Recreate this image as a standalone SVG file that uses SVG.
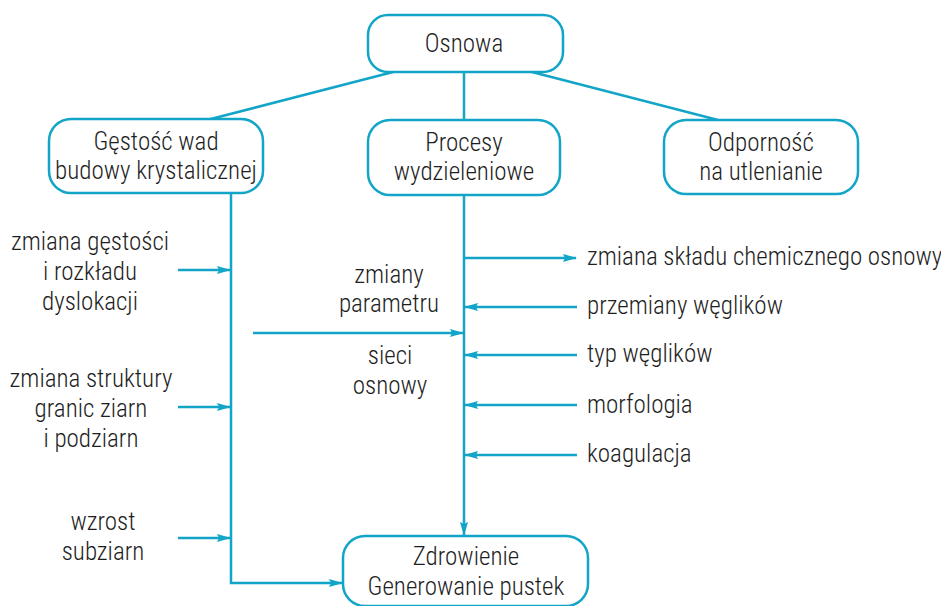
<svg xmlns="http://www.w3.org/2000/svg" width="941" height="606" viewBox="0 0 941 606">
<style>
.box{fill:#fff;stroke:#12a5c7;stroke-width:2.5}
.ln{fill:none;stroke:#12a5c7;stroke-width:2.5}
.t{font-family:Roboto,"Liberation Sans",sans-serif;font-weight:300;font-size:25px;font-stretch:86%;fill:#1e1e1e}
.c{text-anchor:middle}
</style>
<defs>
<marker id="ah" viewBox="0 0 14 8" refX="13" refY="4" markerWidth="14" markerHeight="8" markerUnits="userSpaceOnUse" orient="auto">
<path d="M0,0 L14,4 L0,8 L2,4 Z" fill="#12a5c7"/>
</marker>
</defs>
<rect width="941" height="606" fill="#fff"/>
<g id="connectors">
<path class="ln" d="M393,72 L207,120"/>
<path class="ln" d="M532,72 L718,120"/>
<path class="ln" d="M464,72 L464,120"/>
<path class="ln" d="M231,193 L231,583 L342,583" marker-end="url(#ah)"/>
<path class="ln" d="M178,270 L230,270" marker-end="url(#ah)"/>
<path class="ln" d="M178,407 L230,407" marker-end="url(#ah)"/>
<path class="ln" d="M178,538 L230,538" marker-end="url(#ah)"/>
<path class="ln" d="M464,195 L464,535" marker-end="url(#ah)"/>
<path class="ln" d="M253,333 L463,333" marker-end="url(#ah)"/>
<path class="ln" d="M464,258 L576,258" marker-end="url(#ah)"/>
<path class="ln" d="M577,307 L465,307" marker-end="url(#ah)"/>
<path class="ln" d="M577,355 L465,355" marker-end="url(#ah)"/>
<path class="ln" d="M577,405 L465,405" marker-end="url(#ah)"/>
<path class="ln" d="M577,455 L465,455" marker-end="url(#ah)"/>
</g>
<g id="osnowa">
<rect class="box" x="368" y="15" width="195" height="57" rx="20"/>
<text class="t c" x="464" y="52">Osnowa</text>
</g>
<g id="gestosc">
<rect class="box" x="49" y="119" width="214" height="74" rx="22"/>
<text class="t c" x="156" y="150">Gęstość wad</text>
<text class="t c" x="156" y="179">budowy krystalicznej</text>
</g>
<g id="procesy">
<rect class="box" x="368" y="120" width="192" height="75" rx="22"/>
<text class="t c" x="464" y="151">Procesy</text>
<text class="t c" x="464" y="180">wydzieleniowe</text>
</g>
<g id="odpornosc">
<rect class="box" x="664" y="120" width="194" height="74" rx="22"/>
<text class="t c" x="761" y="151">Odporność</text>
<text class="t c" x="761" y="180">na utlenianie</text>
</g>
<g id="zdrowienie">
<rect class="box" x="343" y="536" width="245" height="70" rx="22"/>
<text class="t c" x="466" y="565">Zdrowienie</text>
<text class="t c" x="466" y="595">Generowanie pustek</text>
</g>
<g id="labels-left">
<text class="t c" x="90" y="250">zmiana gęstości</text>
<text class="t c" x="90" y="280">i rozkładu</text>
<text class="t c" x="90" y="310">dyslokacji</text>
<text class="t c" x="91" y="387">zmiana struktury</text>
<text class="t c" x="91" y="417">granic ziarn</text>
<text class="t c" x="91" y="447">i podziarn</text>
<text class="t c" x="103" y="530">wzrost</text>
<text class="t c" x="103" y="560">subziarn</text>
</g>
<g id="labels-mid">
<text class="t c" x="389" y="283">zmiany</text>
<text class="t c" x="389" y="312">parametru</text>
<text class="t c" x="390" y="364">sieci</text>
<text class="t c" x="390" y="394">osnowy</text>
</g>
<g id="labels-right">
<text class="t" x="587" y="265">zmiana składu chemicznego osnowy</text>
<text class="t" x="587" y="314">przemiany węglików</text>
<text class="t" x="587" y="362">typ węglików</text>
<text class="t" x="587" y="413">morfologia</text>
<text class="t" x="587" y="462">koagulacja</text>
</g>
</svg>
